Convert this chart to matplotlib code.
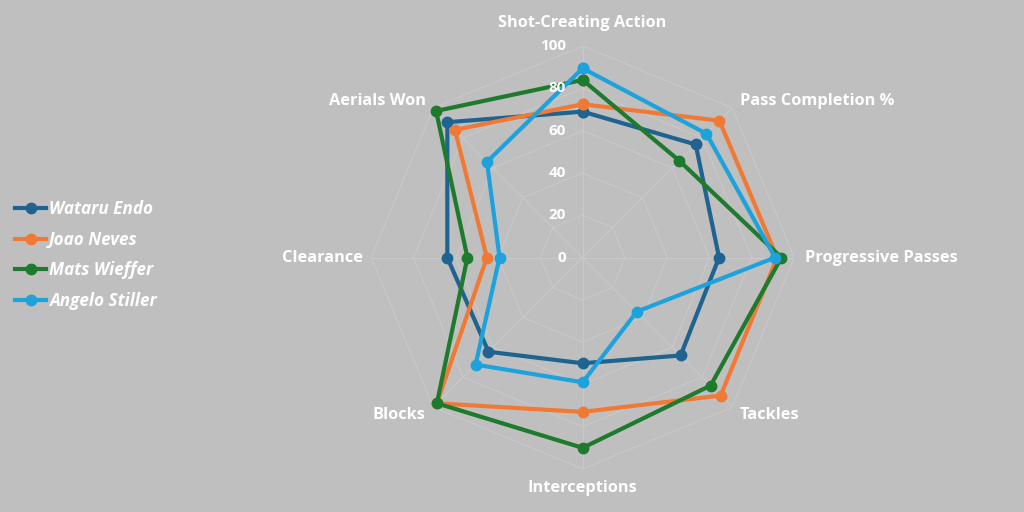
import numpy as np
import matplotlib
matplotlib.use("Agg")
import matplotlib.pyplot as plt
from matplotlib.transforms import offset_copy

# categories, clockwise from the top
categories = ["Shot-Creating Action", "Pass Completion %", "Progressive Passes",
              "Tackles", "Interceptions", "Blocks", "Clearance", "Aerials Won"]

players = ["Wataru Endo", "Joao Neves", "Mats Wieffer", "Angelo Stiller"]
wataru = [69, 75.6, 64.5, 65.5, 50, 63, 64, 90.5]
joao = [72.5, 91.5, 92, 92.3, 73, 97.5, 45.3, 85.4]
mats = [84, 64.7, 94, 85.6, 90, 97.5, 54.5, 98]
angelo = [89.5, 82.8, 91, 36.2, 59, 71.6, 39.3, 64]
series = [wataru, joao, mats, angelo]
colors = ["#1F6391", "#F07A35", "#1E7A2C", "#1EA2DC"]

ticks = [0, 20, 40, 60, 80, 100]

bg = "#BFBFBF"
grid_col = "#C9C9C9"
font = "Open Sans"

fig = plt.figure(figsize=(10.24, 5.12), dpi=100, facecolor=bg)
ax = fig.add_axes([0.569 - 0.2065, 0.497 - 0.413, 0.413, 0.826], projection="polar")
ax.set_facecolor(bg)
ax.set_theta_offset(np.pi / 2)
ax.set_theta_direction(-1)
ax.set_ylim(0, 100)
ax.grid(False)
ax.spines["polar"].set_visible(False)
ax.set_xticks([])
ax.set_yticks([])

n = len(categories)
angles = np.arange(n) * 2 * np.pi / n
closed = np.append(angles, angles[0])

# octagon gridlines and spokes
for t in ticks[1:]:
    ax.plot(closed, [t] * (n + 1), color=grid_col, lw=0.8, zorder=1)
for a in angles:
    ax.plot([a, a], [0, 100], color=grid_col, lw=0.8, zorder=1)

for name, vals, col in zip(players, series, colors):
    ax.plot(closed, vals + vals[:1], color=col, lw=3, marker="o",
            markersize=7.5, label=name, zorder=3, clip_on=False)

# radial tick labels
tick_tr = offset_copy(ax.transData, fig=fig, x=-17, y=0, units="dots")
for t in ticks:
    ax.text(0, t, str(t), transform=tick_tr, ha="right", va="center",
            color="white", fontsize=11, fontweight="bold", family=font, zorder=4)

# category labels
label_pos = [
    (111, "center", "center"),
    (105, "left", "center"),
    (105, "left", "center"),
    (105, "left", "center"),
    (109, "center", "center"),
    (105, "right", "center"),
    (104, "right", "center"),
    (105, "right", "center"),
]
for a, cat, (r, ha, va) in zip(angles, categories, label_pos):
    ax.text(a, r, cat, ha=ha, va=va, color="white", fontsize=11.8,
            fontweight="bold", family=font, clip_on=False)

leg = fig.legend(loc="center left", bbox_to_anchor=(0.0, 0.502), frameon=False,
                 handlelength=1.8, handletextpad=0.15, labelspacing=0.75,
                 prop={"family": font, "weight": "bold", "style": "italic", "size": 12.3})
for txt in leg.get_texts():
    txt.set_color("white")

fig.savefig("out.png", dpi=100, facecolor=bg)
